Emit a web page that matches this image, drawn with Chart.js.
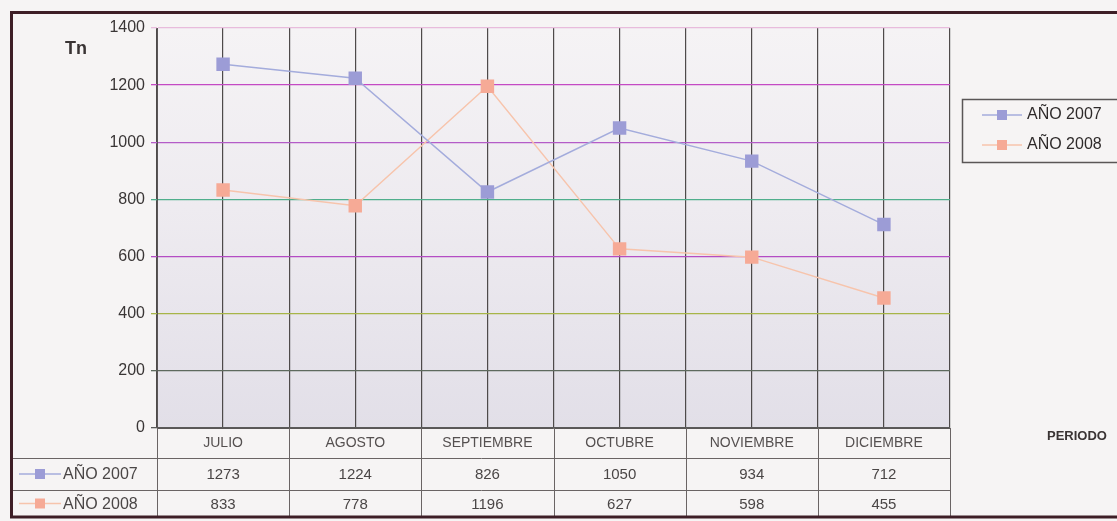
<!DOCTYPE html>
<html>
<head>
<meta charset="utf-8">
<title>AÑO 2007 / AÑO 2008</title>
<script src="https://cdn.jsdelivr.net/npm/chart.js@4.4.1/dist/chart.umd.min.js"></script>
<style>
  html, body { margin: 0; padding: 0; background: #f6f4f4; }
  #wrap { width: 1117px; height: 521px; position: relative; }
</style>
</head>
<body>
<div id="wrap"><canvas id="grafico"></canvas></div>
<script>
// Datos
const meses = ['JULIO', 'AGOSTO', 'SEPTIEMBRE', 'OCTUBRE', 'NOVIEMBRE', 'DICIEMBRE'];
const ano2007 = [1273, 1224, 826, 1050, 934, 712];
const ano2008 = [833, 778, 1196, 627, 598, 455];
const nombresSeries = ['AÑO 2007', 'AÑO 2008'];

// Colores (el escaneo tiñe las líneas de la rejilla)
const coloresRejilla = ['#5a5a5a', '#5e6a5e', '#a7b548', '#b44cc4', '#4fae8c', '#b45cc8', '#c44ac4', '#e8bcdc'];
const colorLinea = ['#a4acdc', '#f7c4ac'];
const colorMarca = ['#9c9cd6', '#f6aa96'];
const fuente = '"Liberation Sans", Arial, sans-serif';

const FILA1 = 458, FILA2 = 490, FILA3 = 517;

// Fondo, marco y degradado del área de trazado
const fondoPlugin = {
    id: 'fondo',
    beforeDraw(chart) {
        const { ctx, chartArea: a } = chart;
        ctx.save();
        ctx.fillStyle = '#f6f4f4';
        ctx.fillRect(0, 0, chart.width, chart.height);
        const g = ctx.createLinearGradient(0, a.top, 0, a.bottom);
        g.addColorStop(0, '#f5f3f5');
        g.addColorStop(0.45, '#eeebf0');
        g.addColorStop(1, '#e2dfe8');
        ctx.fillStyle = g;
        ctx.fillRect(a.left, a.top, a.right - a.left, a.bottom - a.top);
        ctx.restore();
    }
};

function dibujaClave(ctx, x1, x2, y, i) {
    ctx.strokeStyle = colorLinea[i];
    ctx.lineWidth = 1.5;
    ctx.beginPath();
    ctx.moveTo(x1, y);
    ctx.lineTo(x2, y);
    ctx.stroke();
    const m = (x1 + x2) / 2;
    ctx.fillStyle = colorMarca[i];
    ctx.fillRect(m - 5, y - 5, 10, 10);
}

// Tabla de datos, leyenda y textos sueltos
const tablaPlugin = {
    id: 'tabla',
    afterDraw(chart) {
        const { ctx, chartArea: a } = chart;
        const x = chart.scales.x;
        const medio = (x.getPixelForValue(1) - x.getPixelForValue(0)) / 2;
        ctx.save();

        ctx.strokeStyle = '#6a6464';
        ctx.lineWidth = 1;
        // líneas horizontales
        [FILA1, FILA2].forEach(y => {
            ctx.beginPath();
            ctx.moveTo(13, y + 0.5);
            ctx.lineTo(a.right, y + 0.5);
            ctx.stroke();
        });
        // líneas verticales
        const bordes = meses.map((m, i) => x.getPixelForValue(i) - medio);
        bordes.push(x.getPixelForValue(meses.length - 1) + medio);
        bordes.forEach(bx => {
            ctx.beginPath();
            ctx.moveTo(Math.round(bx) + 0.5, a.bottom);
            ctx.lineTo(Math.round(bx) + 0.5, FILA3);
            ctx.stroke();
        });

        // valores
        ctx.fillStyle = '#4a4646';
        ctx.font = '15px ' + fuente;
        ctx.textAlign = 'center';
        ctx.textBaseline = 'middle';
        [ano2007, ano2008].forEach((serie, s) => {
            const yc = s === 0 ? (FILA1 + FILA2) / 2 : (FILA2 + FILA3) / 2;
            serie.forEach((v, i) => ctx.fillText(String(v), x.getPixelForValue(i), yc + 1));
        });

        // columna izquierda
        ctx.textAlign = 'left';
        ctx.font = '16px ' + fuente;
        nombresSeries.forEach((n, s) => {
            const yc = s === 0 ? (FILA1 + FILA2) / 2 : (FILA2 + FILA3) / 2;
            dibujaClave(ctx, 19, 61, yc, s);
            ctx.fillStyle = '#4a4646';
            ctx.fillText(n, 63, yc + 1);
        });

        // leyenda
        ctx.strokeStyle = '#5a5656';
        ctx.strokeRect(962.5, 99.5, 200, 63);
        ctx.font = '16px ' + fuente;
        nombresSeries.forEach((n, s) => {
            const yc = s === 0 ? 115 : 145;
            dibujaClave(ctx, 982, 1022, yc, s);
            ctx.fillStyle = '#2e2a2a';
            ctx.fillText(n, 1027, yc);
        });

        // títulos de ejes
        ctx.fillStyle = '#3a3434';
        ctx.font = 'bold 18px ' + fuente;
        ctx.fillText('Tn', 65, 49);
        ctx.font = 'bold 13px ' + fuente;
        ctx.fillText('PERIODO', 1047, 436);

        // marco exterior
        ctx.strokeStyle = '#3e1e26';
        ctx.lineWidth = 3;
        ctx.strokeRect(11.5, 12.5, 1200, 504.5);
        ctx.restore();
    }
};

const datasets = [ano2007, ano2008].map((serie, i) => ({
    label: nombresSeries[i],
    data: serie,
    borderColor: colorLinea[i],
    backgroundColor: colorMarca[i],
    borderWidth: 1.5,
    pointStyle: 'rect',
    pointRadius: 9.5,
    pointHoverRadius: 9.5,
    pointBorderWidth: 0,
    tension: 0
}));

new Chart(document.getElementById('grafico'), {
    type: 'line',
    data: { labels: meses, datasets },
    plugins: [fondoPlugin, tablaPlugin],
    options: {
        responsive: true,
        maintainAspectRatio: false,
        animation: false,
        layout: { padding: { left: 0, right: 167, top: 28, bottom: 0 } },
        plugins: { legend: { display: false }, tooltip: { enabled: false } },
        scales: {
            x: {
                type: 'category',
                offset: true,
                grid: { offset: true, color: '#4e4a4a', lineWidth: 1.2, drawTicks: false },
                border: { color: '#5a5656', width: 1 },
                ticks: { color: '#555050', font: { family: fuente, size: 14 }, padding: 7, maxRotation: 0, autoSkip: false },
                afterFit(s) { s.height = 93; }
            },
            x2: {
                type: 'category',
                position: 'top',
                offset: true,
                labels: meses,
                grid: { offset: false, color: '#4e4a4a', lineWidth: 1.2, drawTicks: false },
                border: { display: false },
                ticks: { display: false },
                afterFit(s) { s.height = 0; }
            },
            y: {
                min: 0,
                max: 1400,
                ticks: {
                    stepSize: 200,
                    color: '#3a3636',
                    font: { family: fuente, size: 16 },
                    padding: 6,
                    callback: v => String(v)
                },
                grid: {
                    color: c => coloresRejilla[c.index] || '#888',
                    lineWidth: 1.3,
                    tickLength: 6
                },
                border: { color: '#5a5656', width: 1 },
                afterFit(s) { s.width = 157; }
            }
        }
    }
});
</script>
</body>
</html>
